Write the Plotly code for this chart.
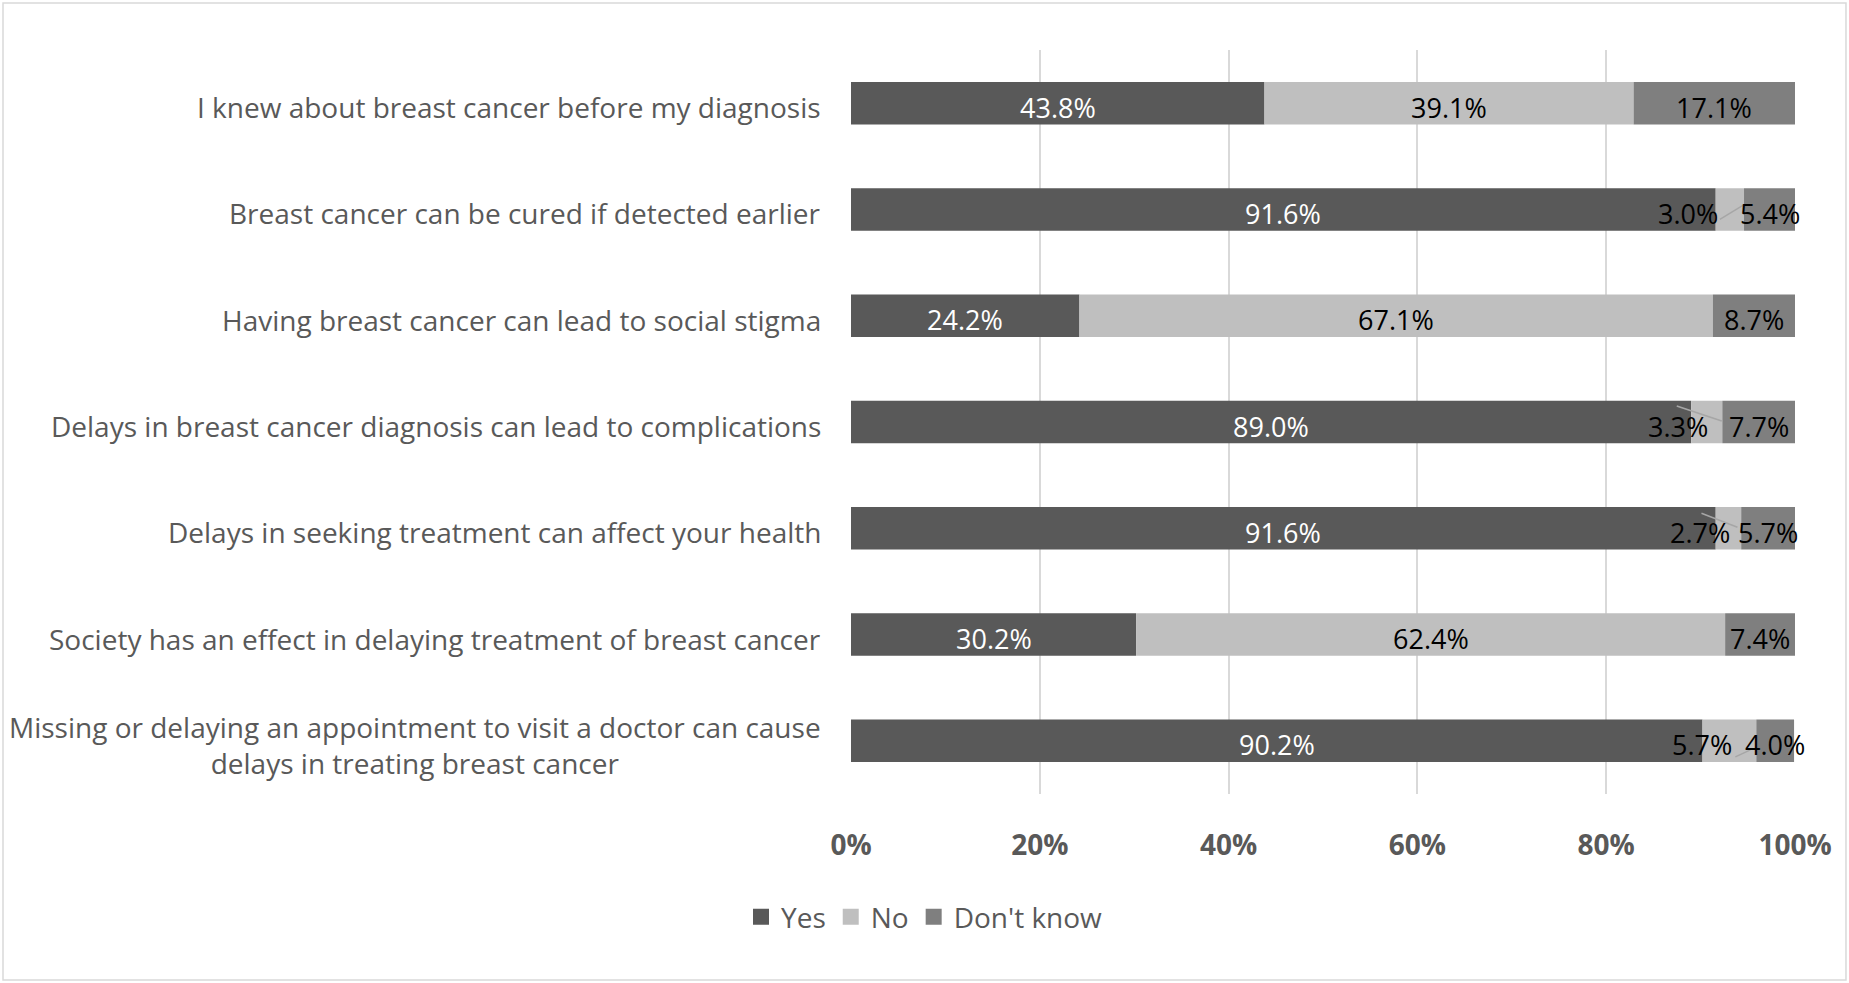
import plotly.graph_objects as go

# Survey statements (top to bottom) and answer shares in percent
statements = [
    "I knew about breast cancer before my diagnosis",
    "Breast cancer can be cured if detected earlier",
    "Having breast cancer can lead to social stigma",
    "Delays in breast cancer diagnosis can lead to complications",
    "Delays in seeking treatment can affect your health",
    "Society has an effect in delaying treatment of breast cancer",
    "Missing or delaying an appointment to visit a doctor can cause<br>delays in treating breast cancer",
]
yes = [43.8, 91.6, 24.2, 89.0, 91.6, 30.2, 90.2]
no = [39.1, 3.0, 67.1, 3.3, 2.7, 62.4, 5.7]
dont_know = [17.1, 5.4, 8.7, 7.7, 5.7, 7.4, 4.0]
tick_values = [0, 20, 40, 60, 80, 100]

series = [
    ("Yes", yes, "#595959", "#ffffff"),
    ("No", no, "#bfbfbf", "#000000"),
    ("Don't know", dont_know, "#7f7f7f", "#000000"),
]

# Labels of thin "No" segments are pushed aside (pixel shift) with a leader line
label_shift = {("No", 1): -42, ("No", 3): -29, ("No", 4): -28, ("No", 6): -27}
leaders = {
    ("No", 1): (-10, -10, 13, 4),
    ("No", 3): (-30, 16, 15, 1),
    ("No", 4): (-27, 15, 9, 1),
    ("No", 6): (6, -16, 21, -9),
}

TEXT = "#595959"
FONT = "Open Sans"
rows = list(range(len(statements)))

fig = go.Figure()
annotations = []
shapes = []
base = [0.0] * len(rows)
for name, vals, color, txtcol in series:
    fig.add_trace(go.Bar(
        name=name, y=rows, x=vals, base=base, orientation="h",
        marker=dict(color=color, line=dict(width=0)),
        hoverinfo="x+name", showlegend=False,
    ))
    for i, v in enumerate(vals):
        center = base[i] + v / 2
        annotations.append(dict(
            x=center, y=i, xref="x", yref="y", text=f"{v:.1f}%",
            showarrow=False, xanchor="center", yanchor="middle",
            xshift=label_shift.get((name, i), 0), yshift=-4,
            font=dict(family=FONT, size=27, color=txtcol),
        ))
        if (name, i) in leaders:
            dx0, dy0, dx1, dy1 = leaders[(name, i)]
            shapes.append(dict(
                type="line", xref="x", yref="y",
                xsizemode="pixel", ysizemode="pixel",
                xanchor=center, yanchor=i,
                x0=dx0, y0=dy0, x1=dx1, y1=dy1,
                line=dict(color="#a6a6a6", width=1.5),
            ))
    base = [b + v for b, v in zip(base, vals)]

# Legend entries with square swatches
for name, vals, color, txtcol in series:
    fig.add_trace(go.Scatter(
        name=name, x=[None], y=[None], mode="markers",
        marker=dict(symbol="square", size=20, color=color),
        showlegend=True, hoverinfo="skip",
    ))

# Statement labels, centred per line and right-aligned against the axis
for i, s in enumerate(statements):
    annotations.append(dict(
        x=0, y=i, xref="paper", yref="y", text=s, showarrow=False,
        xanchor="right", yanchor="middle", align="center",
        xshift=-28, yshift=-4,
        font=dict(family=FONT, size=28, color=TEXT),
    ))

# Light frame around the whole chart
shapes.append(dict(
    type="rect", xref="paper", yref="paper",
    x0=-0.8983, x1=1.0540, y0=-0.25, y1=1.0632,
    line=dict(color="#d9d9d9", width=1.5), layer="below",
))

fig.update_layout(
    width=1849, height=983,
    margin=dict(l=851, r=54, t=50, b=189),
    barmode="overlay", bargap=0.6,
    plot_bgcolor="#ffffff", paper_bgcolor="#ffffff",
    font=dict(family=FONT, color=TEXT),
    showlegend=True,
    legend=dict(
        orientation="h", xref="container", yref="container",
        x=0.5, xanchor="center", y=0.067, yanchor="middle",
        font=dict(family=FONT, size=28, color=TEXT),
        itemsizing="trace", traceorder="normal",
    ),
    annotations=annotations,
    shapes=shapes,
)
fig.update_xaxes(
    range=[0, 100], tickvals=tick_values,
    ticktext=[f"{t}%" for t in tick_values],
    showgrid=True, gridcolor="#d9d9d9", gridwidth=1.5,
    zeroline=False, showline=False, ticks="",
    ticklabelstandoff=32,
    tickfont=dict(family=FONT, size=28, color=TEXT, weight="bold"),
    fixedrange=True,
)
fig.update_yaxes(
    range=[len(rows) - 0.5, -0.5], showticklabels=False,
    showgrid=False, zeroline=False, showline=False, ticks="",
    fixedrange=True,
)

fig.write_html("out.html")
